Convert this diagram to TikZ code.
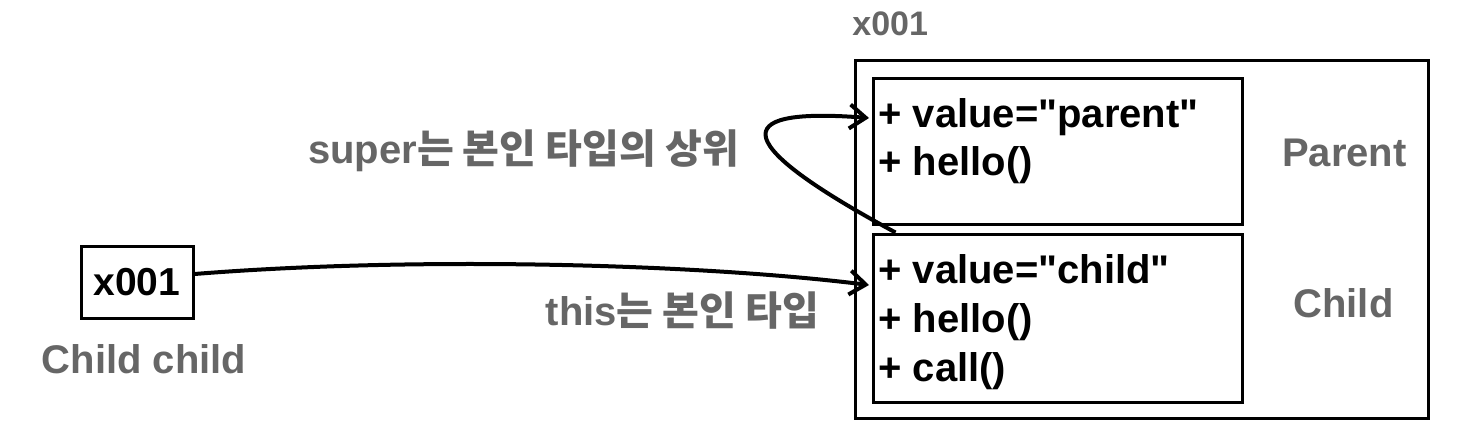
\documentclass[tikz,border=0pt]{standalone}
\usepackage{fontspec}
\setmainfont{Liberation Sans}
\newfontfamily\kofont{Noto Sans CJK KR}
\usetikzlibrary{positioning, arrows.meta}
\definecolor{labelgray}{HTML}{666666}

\begin{document}
\begin{tikzpicture}[x=0.5pt, y=-0.5pt]

            \tikzset{
                frame/.style = {rectangle, draw=black, line width=1.5pt, inner sep=0pt},
                member/.style = {anchor=base west, inner sep=0pt, font=\fontsize{20}{24}\selectfont\bfseries},
                note/.style = {anchor=base, inner sep=0pt, text=labelgray, font=\fontsize{20}{24}\selectfont\bfseries},
                arrow/.style = {line width=2pt, -{Straight Barb[length=8pt, width=12pt, line width=2pt]}}
            }

            \useasboundingbox (0,0) rectangle (1480,440);

            % instance on the heap
            \node (heap) [frame, minimum width=286.5pt, minimum height=179pt] at (1141.5,239) {};
            \node (addr) [note, anchor=base west, font=\fontsize{17}{20}\selectfont\bfseries] at (852,35) {x001};
            \node (pbox) [frame, minimum width=184.5pt, minimum height=73pt] at (1057.5,151) {};
            \node (cbox) [frame, minimum width=184.5pt, minimum height=84pt] at (1057.5,318) {};

            \node (pvalue) [member] at (878,127) {+ value=\textquotedbl parent\textquotedbl};
            \node (phello) [member] at (878,175) {+ hello()};
            \node (cvalue) [member] at (878,283) {+ value=\textquotedbl child\textquotedbl};
            \node (chello) [member] at (878,332) {+ hello()};
            \node (ccall) [member] at (878,381) {+ call()};

            \node (pname) [note] at (1344.5,166) {Parent};
            \node (cname) [note] at (1343.5,317) {Child};

            % reference variable
            \node (xbox) [frame, minimum width=56pt, minimum height=36pt, font=\fontsize{19.5}{24}\selectfont\bfseries] at (137,282) {x001};
            \node (var) [note] at (144,373) {Child child};

            \node (superlbl) [note] at (523.5,163) {super{\kofont 는 본인 타입의 상위}};
            \node (thislbl) [note] at (682.5,325) {this{\kofont 는 본인 타입}};

            \draw [arrow] ([yshift=4pt]xbox.east) .. controls (420,256) and (700,264) .. ([xshift=-4.5pt, yshift=-1pt]cvalue.base west);
            \draw [arrow] ([xshift=12pt]cbox.north west) .. controls (715,135) and (740,108) .. ([xshift=-4.5pt, yshift=4.5pt]pvalue.base west);
        \end{tikzpicture}
\end{document}
